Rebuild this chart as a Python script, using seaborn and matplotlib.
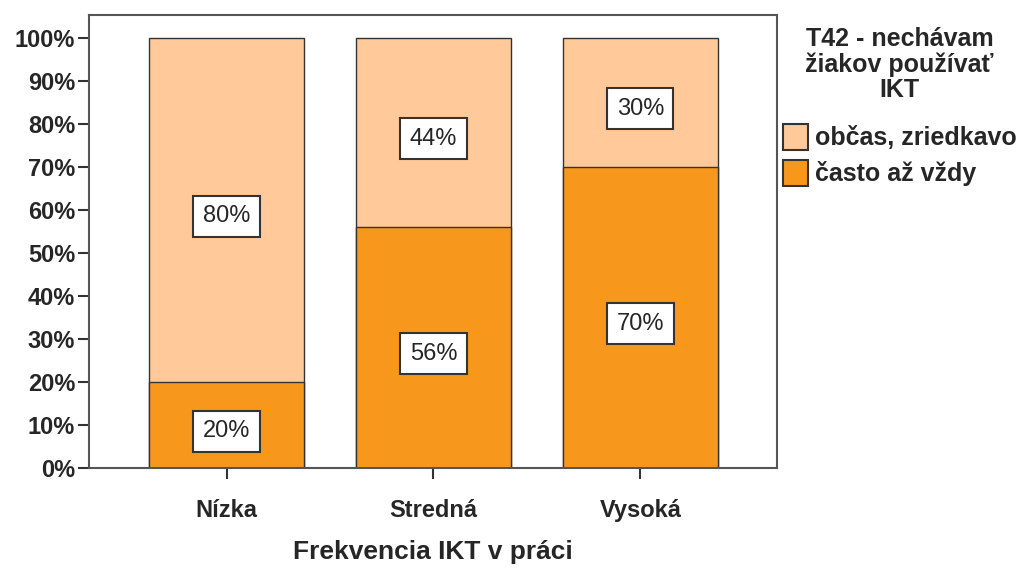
import pandas as pd
import matplotlib.pyplot as plt
import seaborn as sns

# data
categories = ["Nízka", "Stredná", "Vysoká"]
casto = [20, 56, 70]       # často až vždy
obcas = [80, 44, 30]       # občas, zriedkavo

light = "#FFC999"
dark = "#F7981D"

df = pd.DataFrame({"cat": categories, "casto": casto, "obcas": obcas})
df["total"] = df["casto"] + df["obcas"]

sns.set_style("white")
plt.rcParams["font.family"] = ["Liberation Sans", "DejaVu Sans"]

fig = plt.figure(figsize=(10.29, 5.7), dpi=100)
ax = fig.add_axes([0.0865, 0.179, 0.6685, 0.795])

# stacked: full bar in light, lower part in dark on top
sns.barplot(data=df, x="cat", y="total", color=light, width=0.75,
            edgecolor="#333333", linewidth=1, saturation=1, ax=ax)
sns.barplot(data=df, x="cat", y="casto", color=dark, width=0.75,
            edgecolor="#333333", linewidth=1, saturation=1, ax=ax)

box = dict(boxstyle="square,pad=0.4", fc="white", ec="#333333", lw=1.5)
for i, row in df.iterrows():
    ax.text(i, row["casto"] / 2 - 1.5, f"{row['casto']}%", ha="center", va="center",
            fontsize=17, bbox=box)
    ax.text(i, row["casto"] + row["obcas"] / 2 - 1.5, f"{row['obcas']}%", ha="center",
            va="center", fontsize=17, bbox=box)

ax.set_xlim(-0.665, 2.66)
ax.set_ylim(0, 105.3)
ax.set_yticks(range(0, 101, 10))
ax.set_yticklabels([f"{v}%" for v in range(0, 101, 10)], fontsize=17, fontweight="bold")
ax.set_xticks(range(len(categories)))
ax.set_xticklabels(categories, fontsize=17, fontweight="bold")
ax.tick_params(axis="both", direction="out", length=8, width=1.5, color="#333333",
               left=True, bottom=True, pad=2)
ax.tick_params(axis="x", pad=14)
ax.set_ylabel("")
ax.set_xlabel("Frekvencia IKT v práci", fontsize=19, fontweight="bold", labelpad=13)
for s in ax.spines.values():
    s.set_color("#555555")
    s.set_linewidth(1.5)

handles = [plt.Rectangle((0, 0), 1, 1, fc=light, ec="#333333", lw=1.5),
           plt.Rectangle((0, 0), 1, 1, fc=dark, ec="#333333", lw=1.5)]
leg = ax.legend(handles, ["občas, zriedkavo", "často až vždy"],
                title="T42 - nechávam\nžiakov používať\nIKT",
                loc="upper left", bbox_to_anchor=(0.99, 1.0), frameon=False,
                prop={"size": 18, "weight": "bold"}, handlelength=1.0, handleheight=1.2,
                handletextpad=0.3, borderaxespad=0.2, labelspacing=0.4, borderpad=0.3)
leg.get_title().set_fontsize(18)
leg.get_title().set_fontweight("bold")
leg.get_title().set_multialignment("center")
leg.get_title().set_linespacing(1.05)
leg._legend_box.align = "center"
leg._legend_box.sep = 16

fig.savefig("out.png", dpi=100)
